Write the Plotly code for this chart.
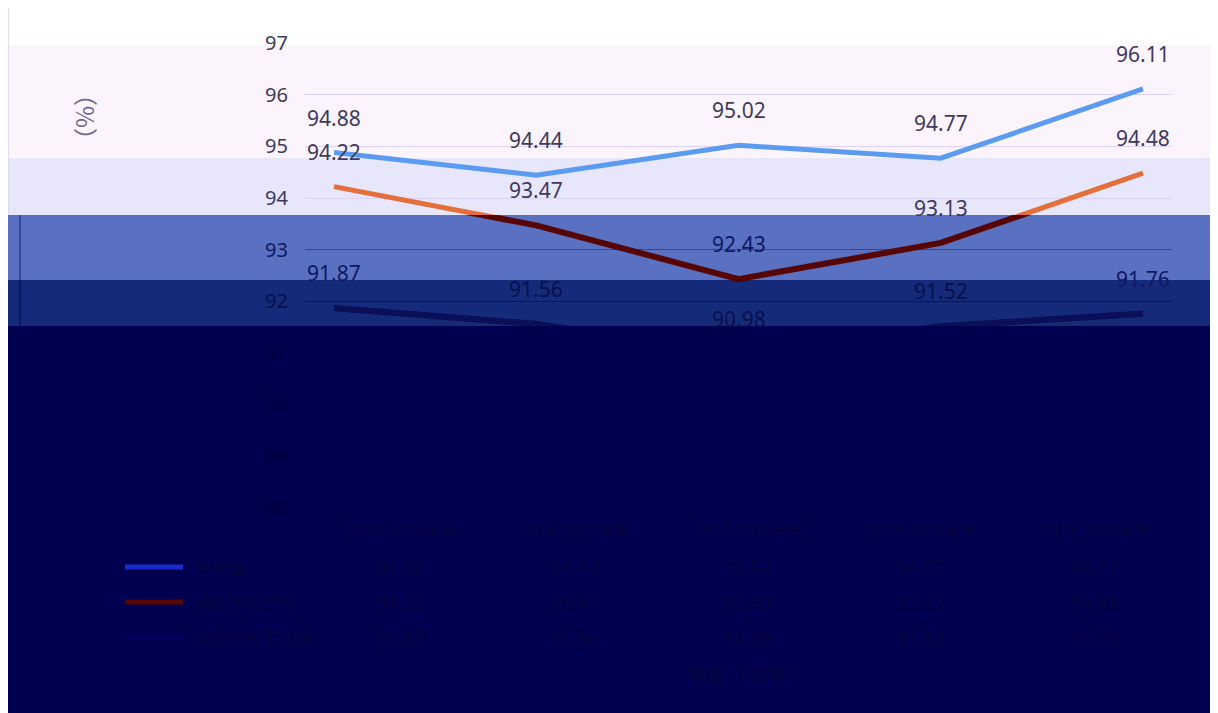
import plotly.graph_objects as go

# ---------------- data ----------------
categories = ["2015-2016学年", "2016-2017学年", "2017-2018学年", "2018-2019学年", "2019-2020学年"]
series_names = ["平均值", "城区学校平均", "农村学校平均值"]
s1 = [94.88, 94.44, 95.02, 94.77, 96.11]
s2 = [94.22, 93.47, 92.43, 93.13, 94.48]
s3 = [91.87, 91.56, 90.98, 91.52, 91.76]
y_ticks = [88, 89, 90, 91, 92, 93, 94, 95, 96, 97]
y_title = "（%）"
x_title = "年度（学年）"

# ---------------- layout geometry (page pixels) ----------------
OFF = 8                       # page body margin
W, H = 1210, 705              # figure size
L, R, T, B = 305, 1172, 43, 508   # plot area in page pixels
Y_MIN, Y_MAX = 88, 97
FONT = "Noto Sans, Noto Sans CJK SC, sans-serif"


def px_x(px):
    return (px - L) / (R - L)


def px_y(py):
    return (B - py) / (B - T)


def val_to_py(v):
    return T + (Y_MAX - v) * (B - T) / (Y_MAX - Y_MIN)


# background colour bands (top, bottom, colour) in page pixels
bands = [(0, 45, "#FFFFFF"), (45, 158, "#FCF4FC"), (158, 215, "#E8E6FA"),
         (215, 280, "#5A70C0"), (280, 326, "#162A7A"), (326, 720, "#000050")]


def ink(py):
    if py < 215:
        return "#3E3A5E"
    if py < 280:
        return "#0E1862"
    if py < 326:
        return "#08104E"
    return "#03033E"


series = [s1, s2, s3]
light_colors = ["#5B9CF0", "#E46F3A", "#0C1466"]
mid_colors = ["#5B9CF0", "#560606", "#0C1466"]
dark_colors = ["#5B9CF0", "#4A0404", "#0A0F58"]
navy_colors = ["#5B9CF0", "#000050", "#000050"]

fig = go.Figure()

# main subplot
for vals, c, n in zip(series, light_colors, series_names):
    fig.add_trace(go.Scatter(x=categories, y=vals, mode="lines", name=n,
                             line=dict(color=c, width=5), showlegend=False,
                             xaxis="x", yaxis="y", hoverinfo="skip"))
# tinted overlays for each darker band
for ax_i, cols in ((2, mid_colors), (3, dark_colors), (4, navy_colors)):
    for vals, c, n in zip(series[1:], cols[1:], series_names[1:]):
        fig.add_trace(go.Scatter(x=categories, y=vals, mode="lines", name=n,
                                 line=dict(color=c, width=7 if ax_i == 4 else 6),
                                 showlegend=False,
                                 xaxis=f"x{ax_i}", yaxis=f"y{ax_i}", hoverinfo="skip"))

shapes = []
for y0, y1, col in bands:
    shapes.append(dict(type="rect", xref="paper", yref="paper",
                       x0=px_x(0), x1=px_x(1230), y0=px_y(y1), y1=px_y(y0),
                       fillcolor=col, line=dict(width=0), layer="below"))
# chart border pieces
border = [((8, 7), (1210, 7), "#D9D9D9"), ((8, 7), (8, 215), "#D6D4EE"),
          ((1211, 7), (1211, 215), "#D6D4EE"), ((20, 215), (20, 280), "#2A3A90"),
          ((20, 280), (20, 326), "#0A1450")]
for (ax, ay), (bx, by), col in border:
    shapes.append(dict(type="line", xref="paper", yref="paper",
                       x0=px_x(ax), x1=px_x(bx), y0=px_y(ay), y1=px_y(by),
                       line=dict(color=col, width=1.5), layer="above"))

# data table rows (page y) and legend keys
row_y = [567, 602, 638]
key_colors = ["#1A2CC8", "#5A0505", "#00005A"]
for ry, kc in zip(row_y, key_colors):
    shapes.append(dict(type="line", xref="paper", yref="paper",
                       x0=px_x(125), x1=px_x(183), y0=px_y(ry), y1=px_y(ry),
                       line=dict(color=kc, width=5), layer="above"))

annotations = []
# data labels
for vals in series:
    for cat, v in zip(categories, vals):
        annotations.append(dict(x=cat, y=v, xref="x", yref="y", text=f"{v:.2f}",
                                showarrow=False, yshift=35,
                                xanchor="center", yanchor="middle",
                                font=dict(size=21, family=FONT, color=ink(val_to_py(v) - 35))))


def page_text(x, y, text, size, color, xanchor="center", family=FONT, angle=0):
    return dict(x=px_x(x), y=px_y(y), xref="paper", yref="paper", text=text,
                showarrow=False, xanchor=xanchor, yanchor="middle", textangle=angle,
                font=dict(size=size, family=family, color=color))


# y-axis title
annotations.append(page_text(83, 117, y_title, 24, "#6E6A8E",
                             family="Noto Sans CJK SC", angle=-90))
# table header
TABLE_INK = "#06063E"
cat_centers = [L + (i + 0.5) * (R - L) / len(categories) + 10 for i in range(len(categories))]
for cx, cat in zip(cat_centers, categories):
    annotations.append(page_text(cx, 530, cat, 16, TABLE_INK))
# table rows
for ry, name, vals in zip(row_y, series_names, series):
    annotations.append(page_text(193, ry, name, 17, TABLE_INK, xanchor="left"))
    for cx, v in zip(cat_centers, vals):
        annotations.append(page_text(cx, ry, f"{v:.2f}", 19, TABLE_INK))
# x-axis title
annotations.append(page_text(748, 675, x_title, 20, TABLE_INK))

tick_text = [f"<span style='color:{ink(val_to_py(t))}'>{t}</span>" for t in y_ticks]

d2 = px_y(215)
d3 = px_y(280)
d4 = px_y(326)


def overlay_axes(i, d, grid):
    xa = dict(matches="x", domain=[0, 1], visible=False, anchor=f"y{i}")
    ya = dict(domain=[0, d], range=[Y_MIN, Y_MIN + (Y_MAX - Y_MIN) * d],
              tickvals=y_ticks, showticklabels=False, showgrid=True,
              gridcolor=grid, gridwidth=1.3, zeroline=False, showline=False,
              ticks="", fixedrange=True, anchor=f"x{i}")
    return xa, ya


x2, y2 = overlay_axes(2, d2, "#2E43A0")
x3, y3 = overlay_axes(3, d3, "#0A165A")
x4, y4 = overlay_axes(4, d4, "#00004E")

fig.update_layout(
    width=W, height=H,
    margin=dict(l=L - OFF, r=(OFF + W) - R, t=T - OFF, b=(OFF + H) - B),
    paper_bgcolor="#FFFFFF", plot_bgcolor="rgba(0,0,0,0)",
    font=dict(family=FONT),
    shapes=shapes, annotations=annotations, showlegend=False,
    xaxis=dict(domain=[0, 1], anchor="y", showgrid=False, showticklabels=False,
               showline=False, zeroline=False, ticks="", fixedrange=True,
               categoryorder="array", categoryarray=categories),
    yaxis=dict(domain=[0, 1], anchor="x", range=[Y_MIN, Y_MAX], tickvals=y_ticks,
               ticktext=tick_text, showgrid=True, gridcolor="#DCD4F2", gridwidth=1.3,
               zeroline=False, showline=False, ticks="", ticklabelstandoff=16,
               tickfont=dict(size=20, family=FONT, color="#3E3A5E"), fixedrange=True),
    xaxis2=x2, yaxis2=y2, xaxis3=x3, yaxis3=y3, xaxis4=x4, yaxis4=y4,
)

fig.write_html("out.html")
